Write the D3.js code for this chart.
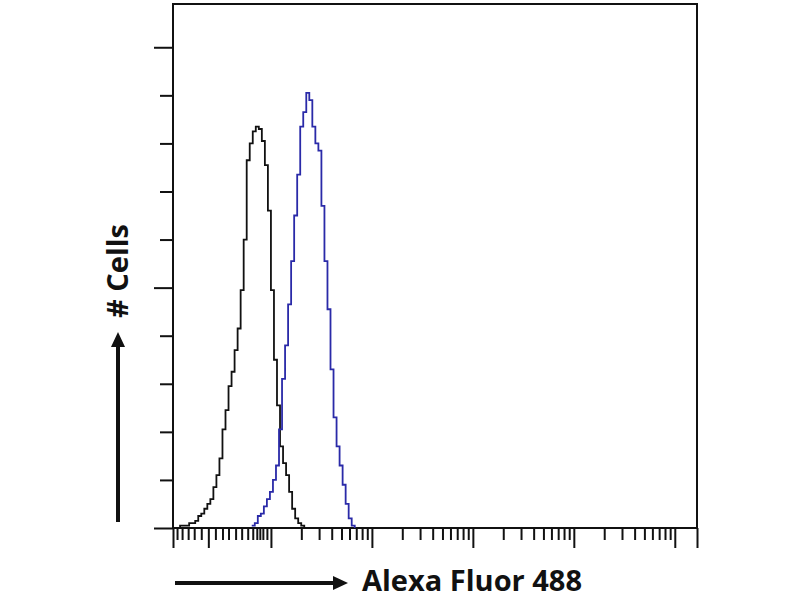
<!DOCTYPE html>
<html>
<head>
<meta charset="utf-8">
<script src="https://cdn.jsdelivr.net/npm/d3@7"></script>
<style>
  html, body { margin: 0; padding: 0; background: #fff; }
  svg { display: block; }
  text { font-family: "Open Sans", "Noto Sans", sans-serif; font-weight: 700; fill: #111; }
</style>
</head>
<body>
<svg id="chart" width="800" height="600"></svg>
<script>
// ---- data (x in display "decade" units, y in cell counts) ----
const binWidth = 0.03;
const controlStart = -0.93;   // black (isotype / unstained control)
const controlCounts = [0, 1, 1, 1, 2, 2, 3, 5, 6, 8, 10, 12, 17, 22, 29, 41, 49, 59, 65, 74, 83, 99, 120, 153,
  160, 165, 167, 166, 161, 151, 132, 99, 70, 51, 34, 27, 22, 15, 8, 4, 2, 1];
const stainedStart = -0.19;   // blue (antibody stained)
const stainedCounts = [1, 2, 5, 6, 9, 12, 15, 20, 26, 41, 62, 76, 93, 111, 130, 147, 167, 173, 181, 178,
  167, 160, 157, 134, 111, 91, 66, 46, 34, 26, 18, 10, 4, 1];

const xDomain = [-0.97, 4.22];
const yDomain = [0, 218];
const yTicks = [0, 20, 40, 60, 80, 100, 120, 140, 160, 180, 200];
const yMajorTicks = [0, 100, 200];
const xMajorTicks = [-0.97, -0.62, 0, 1, 2, 3, 4, 4.22];
const xLowTicks = [-0.93, -0.88, -0.82, -0.76, -0.69, -0.55, -0.48, -0.42, -0.35, -0.29, -0.23,
  -0.18, -0.14, -0.11, -0.08, -0.04];
const decadeMinorSteps = [2, 3, 4, 5, 6, 7, 8, 9];
const xLabel = "Alexa Fluor 488";
const yLabel = "# Cells";

// ---- layout ----
const svg = d3.select("#chart");
const L = 173, R = 697, T = 4, B = 528;
const x = d3.scaleLinear().domain(xDomain).range([L, R]);
const y = d3.scaleLinear().domain(yDomain).range([B, T]);

// minor ticks inside decades
const xMinorTicks = [...xLowTicks];
[0, 1, 2, 3].forEach(d => decadeMinorSteps.forEach(k => xMinorTicks.push(d + Math.log10(k))));

// frame
svg.append("rect").attr("x", L).attr("y", T).attr("width", R - L).attr("height", B - T)
  .attr("fill", "none").attr("stroke", "#111").attr("stroke-width", 2);

// y axis ticks
const yAxisMinor = d3.axisLeft(y).tickValues(yTicks.filter(v => !yMajorTicks.includes(v)))
  .tickSize(13).tickFormat("");
const yAxisMajor = d3.axisLeft(y).tickValues(yMajorTicks).tickSize(19).tickFormat("");
[yAxisMinor, yAxisMajor].forEach(ax => {
  const g = svg.append("g").attr("transform", `translate(${L},0)`).call(ax);
  g.select(".domain").remove();
  g.selectAll("line").attr("stroke", "#111").attr("stroke-width", 2);
});

// x axis ticks
const xAxisMinor = d3.axisBottom(x).tickValues(xMinorTicks).tickSize(12).tickFormat("");
const xAxisMajor = d3.axisBottom(x).tickValues(xMajorTicks).tickSize(20).tickFormat("");
[xAxisMinor, xAxisMajor].forEach(ax => {
  const g = svg.append("g").attr("transform", `translate(0,${B})`).call(ax);
  g.select(".domain").remove();
  g.selectAll("line").attr("stroke", "#111").attr("stroke-width", 2);
});

// histograms
function histPoints(start, counts) {
  const pts = counts.map((c, i) => [start + i * binWidth, c]);
  pts.push([start + counts.length * binWidth, 0]);
  return pts;
}
const line = d3.line().x(d => x(d[0])).y(d => y(d[1])).curve(d3.curveStepAfter);
svg.append("path").datum(histPoints(controlStart, controlCounts))
  .attr("d", line).attr("fill", "none").attr("stroke", "#111").attr("stroke-width", 1.8);
svg.append("path").datum(histPoints(stainedStart, stainedCounts))
  .attr("d", line).attr("fill", "none").attr("stroke", "#2a2aa8").attr("stroke-width", 1.8);

// arrows
svg.append("line").attr("x1", 175).attr("y1", 583).attr("x2", 336).attr("y2", 583)
  .attr("stroke", "#111").attr("stroke-width", 4);
svg.append("path").attr("d", "M348,583 L333,576 L333,590 Z").attr("fill", "#111");
svg.append("line").attr("x1", 118).attr("y1", 522).attr("x2", 118).attr("y2", 344)
  .attr("stroke", "#111").attr("stroke-width", 4);
svg.append("path").attr("d", "M118,332 L111,347 L125,347 Z").attr("fill", "#111");

// labels
svg.append("text").attr("x", 362).attr("y", 591).attr("font-size", 29).text(xLabel);
svg.append("text").attr("transform", "translate(128,318) rotate(-90)")
  .attr("font-size", 29).text(yLabel);
</script>
</body>
</html>
